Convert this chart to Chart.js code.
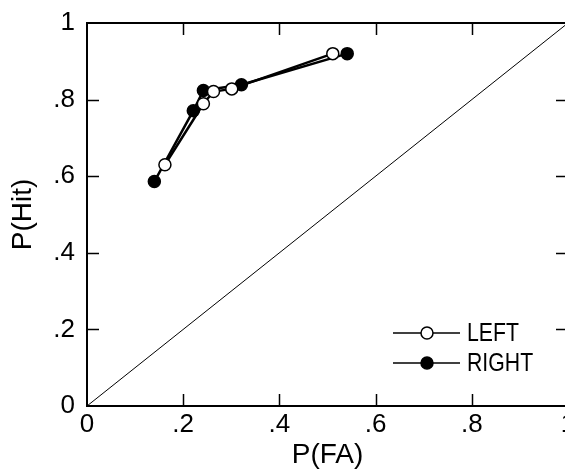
<!DOCTYPE html>
<html>
<head>
<meta charset="utf-8">
<script src="https://cdn.jsdelivr.net/npm/chart.js@4/dist/chart.umd.min.js"></script>
<style>
  html, body { margin: 0; padding: 0; background: #fff; overflow: hidden; }
  #wrap { width: 565px; height: 469px; overflow: hidden; }
</style>
</head>
<body>
<div id="wrap"><canvas id="roc" width="580" height="469"></canvas></div>
<script>
// ROC points
const seriesNames = ['LEFT', 'RIGHT'];
const leftFA = [0.162, 0.242, 0.263, 0.301, 0.511];
const leftHit = [0.630, 0.789, 0.821, 0.828, 0.920];
const rightFA = [0.140, 0.221, 0.242, 0.321, 0.541];
const rightHit = [0.586, 0.771, 0.824, 0.839, 0.920];
const chanceLine = [0, 1];
const tickValues = [0, 0.2, 0.4, 0.6, 0.8, 1];

const FONT = "'Liberation Sans', Arial, Helvetica, sans-serif";

function pts(xs, ys) {
    return xs.map((x, i) => ({ x: x, y: ys[i] }));
}

function fmtTick(v) {
    if (Math.abs(v) < 1e-9) return '0';
    if (Math.abs(v - 1) < 1e-9) return '1';
    return v.toFixed(1).slice(1);
}

// frame with inward ticks on all four sides
const framePlugin = {
    id: 'frame',
    beforeDatasetsDraw(chart) {
        const ctx = chart.ctx;
        const a = chart.chartArea;
        const xs = chart.scales.x, ys = chart.scales.y;
        const len = 12;
        ctx.save();
        ctx.strokeStyle = '#000';
        ctx.lineWidth = 1.5;
        ctx.beginPath();
        xs.ticks.forEach(t => {
            if (t.value <= 0 || t.value >= 1) return;
            const px = Math.round(xs.getPixelForValue(t.value)) + 0.5;
            ctx.moveTo(px, a.bottom); ctx.lineTo(px, a.bottom - len);
            ctx.moveTo(px, a.top); ctx.lineTo(px, a.top + len);
        });
        ys.ticks.forEach(t => {
            if (t.value <= 0 || t.value >= 1) return;
            const py = Math.round(ys.getPixelForValue(t.value)) + 0.5;
            ctx.moveTo(a.left, py); ctx.lineTo(a.left + len, py);
            ctx.moveTo(a.right, py); ctx.lineTo(a.right - len, py);
        });
        ctx.stroke();
        ctx.lineWidth = 2;
        ctx.strokeRect(a.left, a.top, a.right - a.left, a.bottom - a.top);
        ctx.restore();
    }
};

// legend drawn inside the plot, bottom right
const legendPlugin = {
    id: 'innerLegend',
    afterDatasetsDraw(chart) {
        const ctx = chart.ctx;
        const a = chart.chartArea;
        const x0 = a.right - 175, x1 = a.right - 108, xm = a.right - 141;
        ctx.save();
        seriesNames.forEach((name, i) => {
            const ds = chart.data.datasets[i];
            const y = a.bottom - 73 + i * 30;
            ctx.strokeStyle = '#000';
            ctx.lineWidth = 1.5;
            ctx.beginPath();
            ctx.moveTo(x0, y); ctx.lineTo(x1, y);
            ctx.stroke();
            ctx.beginPath();
            ctx.arc(xm, y, 6, 0, Math.PI * 2);
            ctx.fillStyle = ds.pointBackgroundColor;
            ctx.fill();
            ctx.lineWidth = 1.5;
            ctx.stroke();
            ctx.save();
            ctx.translate(a.right - 101, y);
            ctx.scale(0.85, 1);
            ctx.fillStyle = '#000';
            ctx.font = '25px ' + FONT;
            ctx.textBaseline = 'middle';
            ctx.fillText(name, 0, 1);
            ctx.restore();
        });
        ctx.restore();
    }
};

const ctx = document.getElementById('roc').getContext('2d');
new Chart(ctx, {
    type: 'scatter',
    data: {
        datasets: [
            {
                label: seriesNames[0],
                data: pts(leftFA, leftHit),
                showLine: true,
                borderColor: '#000',
                borderWidth: 2.5,
                pointRadius: 6,
                pointBorderWidth: 1.5,
                pointBorderColor: '#000',
                pointBackgroundColor: '#fff',
                order: 1
            },
            {
                label: seriesNames[1],
                data: pts(rightFA, rightHit),
                showLine: true,
                borderColor: '#000',
                borderWidth: 2.5,
                pointRadius: 6,
                pointBorderWidth: 1.5,
                pointBorderColor: '#000',
                pointBackgroundColor: '#000',
                order: 2
            },
            {
                label: 'chance',
                data: pts(chanceLine, chanceLine),
                showLine: true,
                borderColor: '#000',
                borderWidth: 1,
                pointRadius: 0,
                order: 3
            }
        ]
    },
    options: {
        responsive: false,
        animation: false,
        layout: { padding: { left: 0, right: 12, top: 23, bottom: 0 } },
        plugins: {
            legend: { display: false },
            tooltip: { enabled: false }
        },
        scales: {
            x: {
                type: 'linear',
                min: 0,
                max: 1,
                afterBuildTicks: s => { s.ticks = tickValues.map(v => ({ value: v })); },
                afterFit: s => { s.height = 63; s.paddingLeft = 0; s.paddingRight = 0; },
                grid: { display: false, drawTicks: false },
                border: { display: false },
                ticks: {
                    color: '#000',
                    padding: 3,
                    maxRotation: 0,
                    font: { family: FONT, size: 26 },
                    callback: v => fmtTick(v)
                },
                title: {
                    display: true,
                    text: 'P(FA)',
                    color: '#000',
                    padding: 0,
                    font: { family: FONT, size: 28, lineHeight: 1 }
                }
            },
            y: {
                type: 'linear',
                min: 0,
                max: 1,
                afterBuildTicks: s => { s.ticks = tickValues.map(v => ({ value: v })); },
                afterFit: s => { s.width = 87; s.paddingTop = 0; s.paddingBottom = 0; },
                grid: { display: false, drawTicks: false },
                border: { display: false },
                ticks: {
                    color: '#000',
                    padding: 12,
                    font: { family: FONT, size: 26 },
                    callback: v => fmtTick(v)
                },
                title: {
                    display: true,
                    text: 'P(Hit)',
                    color: '#000',
                    padding: 9,
                    font: { family: FONT, size: 28, lineHeight: 1 }
                }
            }
        }
    },
    plugins: [framePlugin, legendPlugin]
});
</script>
</body>
</html>
